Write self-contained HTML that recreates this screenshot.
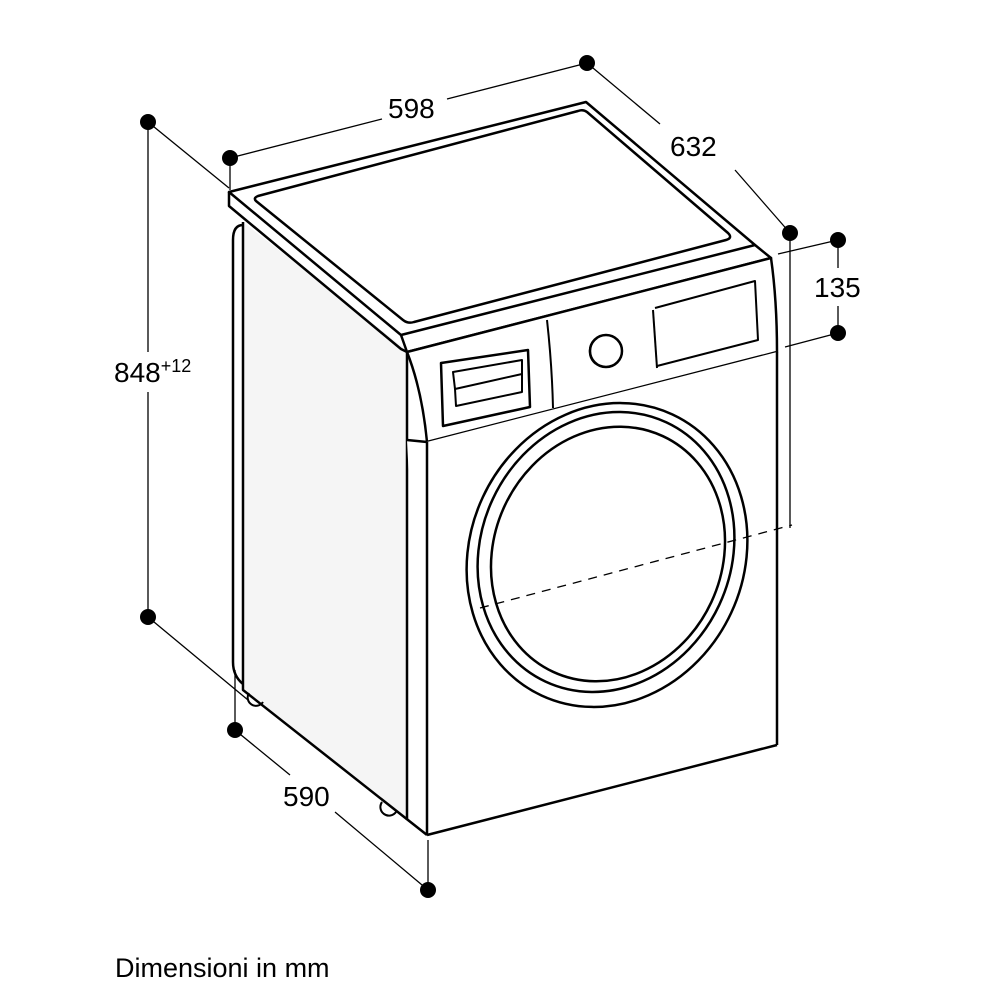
<!DOCTYPE html>
<html><head><meta charset="utf-8"><style>
html,body{margin:0;padding:0;background:#fff}
svg{display:block}
text{font-family:"Liberation Sans",sans-serif;fill:#000}
</style></head><body>
<svg width="1000" height="1000" viewBox="0 0 1000 1000" xmlns="http://www.w3.org/2000/svg">
<g fill="none" stroke="#000" stroke-linejoin="round">
<!-- side face -->
<path d="M243,222 L407,350 L407,820 L427,835 L245,690 Z" fill="#f5f5f5" stroke="none"/>
<path d="M243,222 L243,690 L427,835" stroke-width="2.5"/>
<path d="M243,225 Q233,225 233,240 L233,662 Q233,676 243,684" stroke-width="2.5"/>
<line x1="407" y1="350" x2="407" y2="820" stroke-width="2.5"/>
<!-- feet -->
<path d="M249,693 A8,8 0 0 0 263,702" stroke-width="2"/>
<path d="M382,802 A8,8 0 0 0 396,812" stroke-width="2"/>
<!-- worktop -->
<path d="M229,192 L586,102 L755,245 L771,258 L407,352 L401,335 Z" fill="#fff" stroke="none"/>
<path d="M229,192 L586,102 L755,245 L401,335 Z" stroke-width="2.5"/>
<path d="M229,192 L229,206 L401,349 L407,352" stroke-width="2.5"/>
<path d="M401,335 L407,352 L771,258 L755,245" stroke-width="2.5"/>
<path d="M258,196 L578,111 Q583,109 587,112 L728,233 Q733,238 726,240 L414,322 Q408,324 403,320 L256,201 Q253,198 258,196 Z" stroke-width="2.5"/>
<!-- control panel -->
<path d="M407,352 L771,258 Q777,300 777,352 L427,442 Q422,390 407,352 Z" fill="#fff" stroke-width="2.5"/>
<path d="M547,320 Q552,365 553,408" stroke-width="2"/>
<path d="M653,310 L657,368" stroke-width="2"/>
<path d="M655,308 L755,281 L758,340 L657,366" stroke-width="2"/>
<path d="M441,363 L528,350 L530,407 L443,426 Z" stroke-width="2.5"/>
<path d="M453,372 L522,360 L522,374 L455,389 Z" stroke-width="2"/>
<path d="M455,389 L456,406 L522,392 L522,374" stroke-width="2"/>
<circle cx="606" cy="351" r="16" stroke-width="2.5"/>
<path d="M597,338 A16,16 0 0 0 596,364" stroke-width="2"/>
<!-- front body -->
<path d="M407,440 L427,442 L777,352 L777,745 L427,835 Z" fill="#fff" stroke="none"/>
<line x1="427" y1="442" x2="427" y2="835" stroke-width="2.5"/>
<path d="M407,440 L427,442" stroke-width="2.5"/>
<line x1="777" y1="352" x2="777" y2="745" stroke-width="2.5"/>
<line x1="427" y1="835" x2="777" y2="745" stroke-width="2.5"/>
<!-- door -->
<ellipse cx="607" cy="555" rx="137" ry="155" transform="rotate(25 607 555)" stroke-width="2.5"/>
<ellipse cx="606" cy="552" rx="125" ry="143" transform="rotate(25 606 552)" stroke-width="2.5"/>
<ellipse cx="608" cy="554" rx="114" ry="130" transform="rotate(25 608 554)" stroke-width="2.5"/>
<!-- dimension lines -->
<g stroke-width="1.3">
<line x1="230" y1="158" x2="382" y2="119"/>
<line x1="447" y1="99" x2="587" y2="63"/>
<line x1="587" y1="63" x2="660" y2="124"/>
<line x1="735" y1="170" x2="790" y2="233"/>
<line x1="230" y1="158" x2="230" y2="190"/>
<line x1="148" y1="122" x2="229" y2="188"/>
<line x1="148" y1="122" x2="148" y2="352"/>
<line x1="148" y1="392" x2="148" y2="617"/>
<line x1="148" y1="617" x2="248" y2="700"/>
<line x1="235" y1="670" x2="235" y2="730"/>
<line x1="235" y1="730" x2="290" y2="775"/>
<line x1="335" y1="812" x2="428" y2="890"/>
<line x1="428" y1="840" x2="428" y2="890"/>
<line x1="790" y1="233" x2="790" y2="528"/>
<line x1="838" y1="240" x2="778" y2="254"/>
<line x1="838" y1="333" x2="785" y2="347"/>
<line x1="838" y1="240" x2="838" y2="268"/>
<line x1="838" y1="306" x2="838" y2="333"/>
<line x1="480" y1="608" x2="792" y2="525" stroke-dasharray="9,7"/>
</g>
<g fill="#000" stroke="none">
<circle cx="230" cy="158" r="8"/>
<circle cx="587" cy="63" r="8"/>
<circle cx="790" cy="233" r="8"/>
<circle cx="148" cy="122" r="8"/>
<circle cx="148" cy="617" r="8"/>
<circle cx="235" cy="730" r="8"/>
<circle cx="428" cy="890" r="8"/>
<circle cx="838" cy="240" r="8"/>
<circle cx="838" cy="333" r="8"/>
</g>
</g>
<text x="388" y="118" font-size="28">598</text>
<text x="670" y="156" font-size="28">632</text>
<text x="114" y="382" font-size="28">848<tspan font-size="18" dy="-10">+12</tspan></text>
<text x="283" y="806" font-size="28">590</text>
<text x="814" y="297" font-size="28">135</text>
<text x="115" y="977" font-size="27">Dimensioni in mm</text>
</svg>
</body></html>
